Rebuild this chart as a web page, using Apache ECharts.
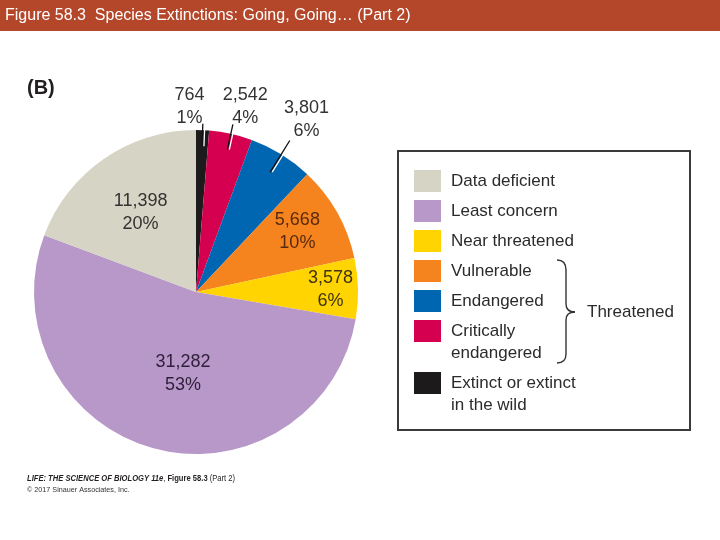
<!DOCTYPE html>
<html lang="en">
<head>
  <meta charset="utf-8">
  <title>Species Extinctions</title>
  <script src="https://cdn.jsdelivr.net/npm/echarts@6/dist/echarts.min.js"></script>
  <style>
    html, body { margin: 0; padding: 0; background: #fff; }
    #chart { width: 720px; height: 540px; }
  </style>
</head>
<body>
<div id="chart"></div>
<script>
  // values, clockwise from 12 o'clock
  const categories = ['Extinct or extinct in the wild', 'Critically endangered', 'Endangered',
    'Vulnerable', 'Near threatened', 'Least concern', 'Data deficient'];
  const speciesCounts = [764, 2542, 3801, 5668, 3578, 31282, 11398];
  // percentages as printed in the figure (their rounding, not ours)
  const printedPercents = [1, 4, 6, 10, 6, 53, 20];
  const legendOrder = ['Data deficient', 'Least concern', 'Near threatened', 'Vulnerable',
    'Endangered', 'Critically endangered'];

  const sliceColors = ['#1c1a1b', '#d5004f', '#0066b2', '#f5841f', '#ffd400', '#b898c8', '#d6d4c4'];
  const labelColors = ['#333', '#333', '#333', '#5a2a0e', '#3d3310', '#2e1f3a', '#333'];

  const cx = 196, cy = 292, R = 162;
  // where each label sits: angle (deg from top, default = slice middle) and distance / radius
  const labelPlace = {
    'Extinct or extinct in the wild': { angle: -2, dist: 1.145, line: [0.9, 1.04] },
    'Critically endangered': { angle: 14.9, dist: 1.185, line: [0.9, 1.06] },
    'Endangered': { angle: 32.6, dist: 1.265, line: [0.87, 1.1] },
    'Vulnerable': { angle: 59, dist: 0.73 },
    'Near threatened': { dist: 0.83 },
    'Least concern': { angle: 189, dist: 0.51 },
    'Data deficient': { dist: 0.6 }
  };

  const total = speciesCounts.reduce((a, b) => a + b, 0);
  const midAngles = [];
  let acc = 0;
  speciesCounts.forEach(v => {
    midAngles.push((acc + v / 2) / total * 360);
    acc += v;
  });

  function polar(deg, f) {
    const a = deg * Math.PI / 180;
    return [cx + R * f * Math.sin(a), cy - R * f * Math.cos(a)];
  }

  // overlay=false: the coloured slices with inside labels
  // overlay=true: invisible slices on top, carrying the outside labels and their leader lines
  function buildData(overlay) {
    return categories.map((name, i) => {
      const outside = !!labelPlace[name].line;
      const showLabel = overlay ? outside : !outside;
      return {
        name: name,
        value: speciesCounts[i],
        itemStyle: { color: overlay ? 'rgba(0,0,0,0)' : sliceColors[i] },
        label: { show: showLabel, position: outside ? 'outside' : 'inside', color: labelColors[i] },
        labelLine: { show: overlay && outside }
      };
    });
  }

  const font = '"Liberation Sans", Arial, Helvetica, sans-serif';
  const ink = '#2b2b2b';

  function labelLayout(params) {
    const i = params.dataIndex;
    const place = labelPlace[categories[i]];
    const ang = place.angle != null ? place.angle : midAngles[i];
    const p = polar(ang, place.dist);
    const out = { x: p[0], y: p[1], align: 'center', verticalAlign: 'middle' };
    if (place.line) {
      const a = polar(midAngles[i], place.line[0]);
      const b = polar(midAngles[i], place.line[1]);
      out.labelLinePoints = [a, [(a[0] + b[0]) / 2, (a[1] + b[1]) / 2], b];
    }
    return out;
  }

  const pieBase = {
    type: 'pie',
    center: [cx, cy],
    radius: R,
    startAngle: 90,
    clockwise: true,
    avoidLabelOverlap: false,
    silent: true,
    itemStyle: { borderWidth: 0 },
    label: {
      fontSize: 18,
      lineHeight: 23,
      fontFamily: font,
      formatter: p => p.value.toLocaleString('en-US') + '\n' + printedPercents[p.dataIndex] + '%'
    },
    labelLine: {
      lineStyle: { color: '#111', width: 1.3, shadowColor: '#fff', shadowBlur: 0, shadowOffsetX: 2 }
    },
    labelLayout: labelLayout
  };

  // curly bracket for the "Threatened" group
  const braceStyle = { fill: 'none', stroke: '#333', lineWidth: 1.4 };
  const brace = [
    { type: 'bezierCurve', shape: { x1: 557, y1: 260, cpx1: 566, cpy1: 260, x2: 566, y2: 270 } },
    { type: 'line', shape: { x1: 566, y1: 270, x2: 566, y2: 304 } },
    { type: 'bezierCurve', shape: { x1: 566, y1: 304, cpx1: 566, cpy1: 312, x2: 575, y2: 312 } },
    { type: 'bezierCurve', shape: { x1: 575, y1: 312, cpx1: 566, cpy1: 312, x2: 566, y2: 320 } },
    { type: 'line', shape: { x1: 566, y1: 320, x2: 566, y2: 354 } },
    { type: 'bezierCurve', shape: { x1: 566, y1: 354, cpx1: 566, cpy1: 363, x2: 557, y2: 363 } }
  ].map(e => Object.assign(e, { style: braceStyle }));

  const chart = echarts.init(document.getElementById('chart'), null, { renderer: 'canvas' });

  chart.setOption({
    animation: false,
    backgroundColor: '#fff',
    title: [{
      text: 'Figure 58.3  Species Extinctions: Going, Going… (Part 2)',
      left: 5, top: 8, padding: 0,
      textStyle: { color: '#fff', fontSize: 16, fontWeight: 'normal', fontFamily: font }
    }, {
      text: '(B)',
      left: 27, top: 78, padding: 0,
      textStyle: { color: '#231f20', fontSize: 20, fontWeight: 'bold', fontFamily: font }
    }],
    legend: [{
      data: legendOrder,
      orient: 'vertical',
      left: 414, top: 170, padding: 0,
      itemWidth: 27, itemHeight: 22, itemGap: 8,
      icon: 'rect',
      selectedMode: false,
      formatter: n => n === 'Critically endangered' ? 'Critically' : n,
      textStyle: { fontSize: 17, color: ink, fontFamily: font, padding: [0, 0, 0, 5] }
    }, {
      data: ['Extinct or extinct in the wild'],
      orient: 'vertical',
      left: 414, top: 372, padding: 0,
      itemWidth: 27, itemHeight: 22,
      icon: 'rect',
      selectedMode: false,
      formatter: () => 'Extinct or extinct',
      textStyle: { fontSize: 17, color: ink, fontFamily: font, padding: [0, 0, 0, 5] }
    }],
    graphic: [
      { type: 'rect', shape: { x: 0, y: 0, width: 720, height: 31 }, style: { fill: '#b4462a' }, z: -1 },
      { type: 'rect', shape: { x: 398, y: 151, width: 292, height: 279 },
        style: { fill: 'none', stroke: '#3a3a3a', lineWidth: 2 } },
      { type: 'text', x: 451, y: 353,
        style: { text: 'endangered', fontSize: 17, fill: ink, fontFamily: font, verticalAlign: 'middle' } },
      { type: 'text', x: 451, y: 405,
        style: { text: 'in the wild', fontSize: 17, fill: ink, fontFamily: font, verticalAlign: 'middle' } },
      ...brace,
      { type: 'text', x: 587, y: 312,
        style: { text: 'Threatened', fontSize: 17, fill: ink, fontFamily: font, verticalAlign: 'middle' } },
      { type: 'text', x: 27, y: 478, scaleX: 0.8,
        style: {
          text: '{i|LIFE: THE SCIENCE OF BIOLOGY 11e}{r|, }{b|Figure 58.3}{r| (Part 2)}',
          verticalAlign: 'middle',
          rich: {
            i: { fontSize: 9.5, fontStyle: 'italic', fontWeight: 'bold', fill: '#231f20', fontFamily: font },
            b: { fontSize: 9.5, fontWeight: 'bold', fill: '#231f20', fontFamily: font },
            r: { fontSize: 9.5, fill: '#231f20', fontFamily: font }
          }
        } },
      { type: 'text', x: 27, y: 490, scaleX: 0.9,
        style: { text: '© 2017 Sinauer Associates, Inc.', fontSize: 8, fill: '#333',
          fontFamily: font, verticalAlign: 'middle' } }
    ],
    series: [
      Object.assign({}, pieBase, { name: 'slices', z: 2, data: buildData(false) }),
      Object.assign({}, pieBase, { name: 'callouts', z: 3, data: buildData(true) })
    ]
  });
</script>
</body>
</html>
